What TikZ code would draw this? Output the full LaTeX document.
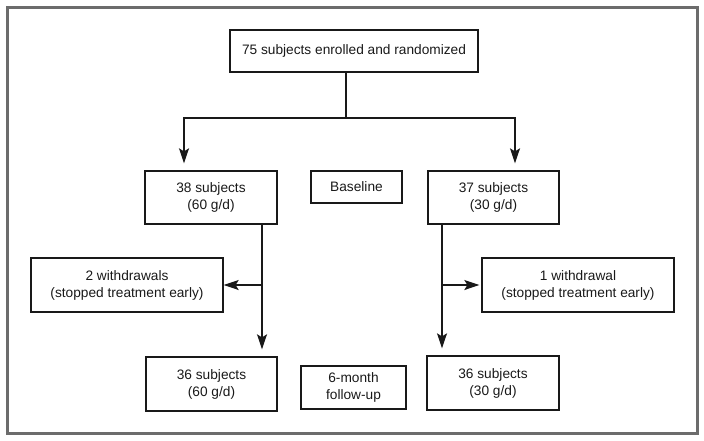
\documentclass[tikz,border=0pt]{standalone}
\usepackage{fontspec}
\setmainfont{Liberation Sans}
\usetikzlibrary{arrows.meta}
\begin{document}
\begin{tikzpicture}[x=1pt,y=-1pt,
  box/.style={draw=black!90, line width=1.3pt, inner sep=0pt, align=center,
    font=\fontsize{13.7pt}{17pt}\selectfont, text=black!90},
  conn/.style={draw=black!90, line width=1.4pt},
  arr/.style={conn, -{Stealth[length=15pt,width=10pt,inset=3pt]}}]
\useasboundingbox (0,0) rectangle (704,440);
\draw[gray!85!black, line width=3pt] (7,7) rectangle (697,433);

\node[box, minimum width=248pt, minimum height=42pt] (top) at (354,51) {75 subjects enrolled and randomized};
\node[box, minimum width=132pt, minimum height=53pt] (b38) at (211,197.5) {38 subjects\\(60 g/d)};
\node[box, minimum width=91pt, minimum height=32pt] (base) at (356.5,187) {Baseline};
\node[box, minimum width=131pt, minimum height=53pt] (b37) at (493.5,197.5) {37 subjects\\(30 g/d)};
\node[box, minimum width=192pt, minimum height=54pt] (w2) at (127,285) {2 withdrawals\\(stopped treatment early)};
\node[box, minimum width=192pt, minimum height=54pt] (w1) at (578,285) {1 withdrawal\\(stopped treatment early)};
\node[box, minimum width=131pt, minimum height=54pt] (f60) at (211.5,384) {36 subjects\\(60 g/d)};
\node[box, minimum width=105pt, minimum height=43pt] (month) at (353.5,387.5) {6-month\\follow-up};
\node[box, minimum width=132pt, minimum height=54pt] (f30) at (493,383) {36 subjects\\(30 g/d)};

\coordinate (split) at (346,117);
\coordinate (jl) at (184,118);
\coordinate (jr) at (515,118);
\coordinate (lv) at (262,0);
\coordinate (rv) at (442,0);

\draw[conn] (top.south -| split) -- (split);
\draw[arr, shorten >=7pt] (jr -| split) -- (jl) -- (jl |- b38.north);
\draw[arr, shorten >=7pt] (jl -| split) -- (jr) -- (jr |- b37.north);
\draw[arr, shorten >=7pt] (b38.south -| lv) -- (f60.north -| lv);
\draw[arr] (w2.east -| lv) -- (w2.east);
\draw[arr, shorten >=7pt] (b37.south -| rv) -- (f30.north -| rv);
\draw[arr, shorten >=2pt] (w1.west -| rv) -- (w1.west);
\end{tikzpicture}
\end{document}
